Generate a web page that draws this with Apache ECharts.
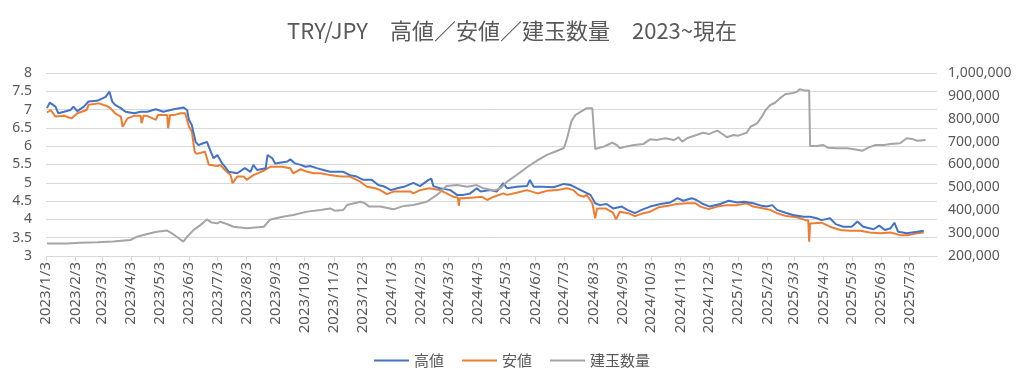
<!DOCTYPE html>
<html><head><meta charset="utf-8">
<script src="https://cdn.jsdelivr.net/npm/echarts@6/dist/echarts.min.js"></script>
<style>html,body{margin:0;padding:0;background:#fff}#c{width:1024px;height:386px}</style>
</head><body><div id="c"></div><script>
const chartTitle = 'TRY/JPY　高値／安値／建玉数量　2023~現在';
const seriesNames = ['高値', '安値', '建玉数量'];
const xStart = '2023/1/3';
const xEnd = '2025/8/1';
const tickLabels = ['2023/1/3','2023/2/3','2023/3/3','2023/4/3','2023/5/3','2023/6/3','2023/7/3','2023/8/3','2023/9/3','2023/10/3','2023/11/3','2023/12/3',
'2024/1/3','2024/2/3','2024/3/3','2024/4/3','2024/5/3','2024/6/3','2024/7/3','2024/8/3','2024/9/3','2024/10/3','2024/11/3','2024/12/3',
'2025/1/3','2025/2/3','2025/3/3','2025/4/3','2025/5/3','2025/6/3','2025/7/3'];

const high = [['2023-01-04',7.04],['2023-01-07',7.19],['2023-01-13',7.08],['2023-01-16',6.90],['2023-01-22',6.94],['2023-01-29',6.99],['2023-02-01',7.08],['2023-02-05',6.96],['2023-02-12',7.08],['2023-02-17',7.22],['2023-02-26',7.24],['2023-03-07',7.35],['2023-03-11',7.49],['2023-03-14',7.22],['2023-03-17',7.13],['2023-03-23',7.04],['2023-03-28',6.94],['2023-04-06',6.90],['2023-04-13',6.94],['2023-04-20',6.94],['2023-04-29',7.01],['2023-05-07',6.94],['2023-05-18',7.01],['2023-05-28',7.06],['2023-06-01',6.99],['2023-06-03',6.72],['2023-06-06',6.58],['2023-06-08',6.35],['2023-06-10',6.12],['2023-06-13',6.03],['2023-06-18',6.08],['2023-06-22',6.12],['2023-06-26',5.85],['2023-06-29',5.67],['2023-07-03',5.76],['2023-07-08',5.53],['2023-07-11',5.44],['2023-07-15',5.30],['2023-07-24',5.26],['2023-08-01',5.40],['2023-08-07',5.30],['2023-08-10',5.49],['2023-08-14',5.35],['2023-08-23',5.40],['2023-08-25',5.76],['2023-08-30',5.67],['2023-09-02',5.53],['2023-09-07',5.55],['2023-09-15',5.58],['2023-09-18',5.64],['2023-09-23',5.53],['2023-09-29',5.49],['2023-10-04',5.44],['2023-10-09',5.46],['2023-10-16',5.40],['2023-10-23',5.35],['2023-10-30',5.30],['2023-11-13',5.30],['2023-11-20',5.21],['2023-11-27',5.17],['2023-12-04',5.08],['2023-12-13',5.08],['2023-12-20',4.94],['2023-12-27',4.89],['2024-01-02',4.80],['2024-01-09',4.85],['2024-01-16',4.89],['2024-01-26',5.00],['2024-02-02',4.91],['2024-02-11',5.08],['2024-02-14',5.11],['2024-02-16',4.91],['2024-02-23',4.85],['2024-03-05',4.80],['2024-03-12',4.67],['2024-03-19',4.67],['2024-03-26',4.71],['2024-04-02',4.85],['2024-04-06',4.76],['2024-04-16',4.80],['2024-04-23',4.76],['2024-04-30',4.99],['2024-05-04',4.85],['2024-05-14',4.89],['2024-05-25',4.91],['2024-05-28',5.08],['2024-06-01',4.89],['2024-06-11',4.89],['2024-06-22',4.88],['2024-07-03',4.97],['2024-07-10',4.94],['2024-07-17',4.85],['2024-07-24',4.76],['2024-07-31',4.67],['2024-08-05',4.44],['2024-08-10',4.39],['2024-08-17',4.42],['2024-08-24',4.30],['2024-09-02',4.35],['2024-09-08',4.26],['2024-09-16',4.17],['2024-09-23',4.26],['2024-10-02',4.35],['2024-10-13',4.42],['2024-10-23',4.46],['2024-10-31',4.58],['2024-11-06',4.51],['2024-11-15',4.58],['2024-11-20',4.53],['2024-11-27',4.42],['2024-12-04',4.35],['2024-12-15',4.42],['2024-12-24',4.51],['2025-01-02',4.46],['2025-01-09',4.48],['2025-01-19',4.44],['2025-01-28',4.37],['2025-02-02',4.35],['2025-02-08',4.39],['2025-02-13',4.26],['2025-02-22',4.18],['2025-03-02',4.12],['2025-03-13',4.07],['2025-03-20',4.07],['2025-03-27',4.03],['2025-04-01',3.98],['2025-04-10',4.03],['2025-04-16',3.87],['2025-04-24',3.80],['2025-05-03',3.80],['2025-05-09',3.94],['2025-05-15',3.80],['2025-05-26',3.73],['2025-06-01',3.83],['2025-06-07',3.71],['2025-06-13',3.76],['2025-06-17',3.91],['2025-06-21',3.66],['2025-06-30',3.62],['2025-07-11',3.66],['2025-07-18',3.69]];

const low = [['2023-01-04',6.92],['2023-01-08',6.99],['2023-01-13',6.81],['2023-01-22',6.83],['2023-01-30',6.76],['2023-02-05',6.90],['2023-02-15',6.99],['2023-02-17',7.13],['2023-02-28',7.17],['2023-03-08',7.10],['2023-03-12',7.04],['2023-03-17',6.90],['2023-03-23',6.81],['2023-03-25',6.53],['2023-03-30',6.76],['2023-04-06',6.83],['2023-04-13',6.83],['2023-04-14',6.63],['2023-04-16',6.83],['2023-04-20',6.83],['2023-04-29',6.72],['2023-05-01',6.85],['2023-05-07',6.85],['2023-05-11',6.85],['2023-05-12',6.49],['2023-05-14',6.85],['2023-05-18',6.85],['2023-05-25',6.90],['2023-05-30',6.90],['2023-06-03',6.53],['2023-06-06',6.40],['2023-06-09',5.85],['2023-06-11',5.79],['2023-06-20',5.85],['2023-06-24',5.49],['2023-07-03',5.46],['2023-07-06',5.49],['2023-07-11',5.35],['2023-07-17',5.21],['2023-07-19',4.99],['2023-07-24',5.17],['2023-07-31',5.17],['2023-08-03',5.08],['2023-08-10',5.21],['2023-08-21',5.33],['2023-08-28',5.44],['2023-09-09',5.44],['2023-09-18',5.40],['2023-09-21',5.26],['2023-09-29',5.37],['2023-10-06',5.30],['2023-10-13',5.26],['2023-10-20',5.26],['2023-10-30',5.21],['2023-11-10',5.17],['2023-11-20',5.17],['2023-12-01',5.03],['2023-12-08',4.89],['2023-12-17',4.85],['2023-12-22',4.80],['2023-12-29',4.69],['2024-01-05',4.76],['2024-01-16',4.76],['2024-01-23',4.76],['2024-01-26',4.71],['2024-02-02',4.80],['2024-02-12',4.85],['2024-02-23',4.80],['2024-03-01',4.71],['2024-03-08',4.62],['2024-03-13',4.60],['2024-03-14',4.37],['2024-03-15',4.58],['2024-03-19',4.58],['2024-03-30',4.60],['2024-04-07',4.62],['2024-04-13',4.53],['2024-04-20',4.62],['2024-04-30',4.71],['2024-05-04',4.67],['2024-05-14',4.73],['2024-05-25',4.80],['2024-06-05',4.71],['2024-06-15',4.78],['2024-06-26',4.80],['2024-07-06',4.85],['2024-07-13',4.80],['2024-07-18',4.67],['2024-07-24',4.62],['2024-07-27',4.67],['2024-08-02',4.44],['2024-08-05',4.03],['2024-08-07',4.30],['2024-08-16',4.30],['2024-08-24',4.18],['2024-08-27',4.00],['2024-08-31',4.21],['2024-09-09',4.17],['2024-09-16',4.09],['2024-09-25',4.17],['2024-10-02',4.21],['2024-10-11',4.33],['2024-10-21',4.37],['2024-10-30',4.42],['2024-11-10',4.44],['2024-11-19',4.44],['2024-11-24',4.35],['2024-12-03',4.28],['2024-12-12',4.35],['2024-12-22',4.39],['2025-01-02',4.39],['2025-01-12',4.44],['2025-01-19',4.35],['2025-01-30',4.30],['2025-02-06',4.26],['2025-02-13',4.17],['2025-02-23',4.09],['2025-03-06',4.06],['2025-03-15',3.98],['2025-03-18',3.98],['2025-03-19',3.39],['2025-03-20',3.89],['2025-04-01',3.91],['2025-04-10',3.80],['2025-04-21',3.71],['2025-05-01',3.69],['2025-05-12',3.69],['2025-05-22',3.64],['2025-06-02',3.62],['2025-06-13',3.64],['2025-06-23',3.57],['2025-07-02',3.57],['2025-07-11',3.62],['2025-07-18',3.64]];

const openInterest = [['2023-01-04',255000],['2023-01-15',255000],['2023-01-25',255000],['2023-02-08',258000],['2023-02-26',260000],['2023-03-15',263000],['2023-04-02',270000],['2023-04-09',284000],['2023-04-20',296000],['2023-04-30',306000],['2023-05-11',311000],['2023-05-16',299000],['2023-05-21',284000],['2023-05-28',263000],['2023-06-01',284000],['2023-06-08',314000],['2023-06-15',335000],['2023-06-22',360000],['2023-06-27',346000],['2023-07-03',343000],['2023-07-06',350000],['2023-07-13',340000],['2023-07-20',328000],['2023-08-03',321000],['2023-08-21',328000],['2023-08-28',360000],['2023-09-10',372000],['2023-09-21',379000],['2023-10-06',394000],['2023-10-20',401000],['2023-10-30',408000],['2023-11-04',398000],['2023-11-13',401000],['2023-11-17',423000],['2023-12-01',437000],['2023-12-06',430000],['2023-12-10',416000],['2023-12-22',416000],['2024-01-05',404000],['2024-01-16',419000],['2024-01-26',423000],['2024-02-09',437000],['2024-02-20',467000],['2024-03-01',506000],['2024-03-12',510000],['2024-03-23',503000],['2024-04-02',510000],['2024-04-09',496000],['2024-04-20',486000],['2024-04-27',496000],['2024-05-04',525000],['2024-05-14',554000],['2024-05-25',588000],['2024-06-05',618000],['2024-06-15',642000],['2024-06-26',660000],['2024-07-03',672000],['2024-07-06',710000],['2024-07-11',790000],['2024-07-15',816000],['2024-07-21',831000],['2024-07-27',846000],['2024-08-02',846000],['2024-08-05',668000],['2024-08-14',678000],['2024-08-23',695000],['2024-08-28',685000],['2024-08-31',671000],['2024-09-06',678000],['2024-09-15',685000],['2024-09-25',690000],['2024-10-02',710000],['2024-10-09',707000],['2024-10-18',715000],['2024-10-27',707000],['2024-11-01',719000],['2024-11-05',700000],['2024-11-10',715000],['2024-11-20',729000],['2024-11-27',739000],['2024-12-03',733000],['2024-12-12',748000],['2024-12-19',729000],['2024-12-22',719000],['2024-12-29',729000],['2025-01-03',726000],['2025-01-12',739000],['2025-01-16',765000],['2025-01-23',780000],['2025-01-28',809000],['2025-02-01',838000],['2025-02-06',860000],['2025-02-11',870000],['2025-02-16',889000],['2025-02-22',908000],['2025-03-01',911000],['2025-03-06',918000],['2025-03-09',929000],['2025-03-15',923000],['2025-03-19',923000],['2025-03-20',681000],['2025-03-27',681000],['2025-04-03',685000],['2025-04-08',673000],['2025-04-17',671000],['2025-04-28',671000],['2025-05-07',666000],['2025-05-14',660000],['2025-05-21',675000],['2025-05-28',685000],['2025-06-06',685000],['2025-06-13',690000],['2025-06-23',693000],['2025-06-30',715000],['2025-07-07',710000],['2025-07-11',704000],['2025-07-20',707000]];

function toTime(s) {
  const p = s.split(/[\/-]/).map(Number);
  return new Date(p[0], p[1] - 1, p[2]).getTime();
}
function toPoints(arr) { return arr.map(function (r) { return [toTime(r[0]), r[1]]; }); }
const tickTimes = tickLabels.map(toTime);
const txt = '#595959';
const font = '"Noto Sans", "Noto Sans CJK JP", sans-serif';

const chart = echarts.init(document.getElementById('c'), null, {renderer: 'canvas'});
chart.setOption({
  animation: false,
  backgroundColor: '#fff',
  title: {
    text: chartTitle, left: 'center', top: 15,
    textStyle: {fontFamily: '"Noto Sans CJK JP", sans-serif', fontSize: 22, fontWeight: 'normal', color: txt}
  },
  legend: {
    data: seriesNames, left: 'center', top: 348, icon: 'rect', itemWidth: 35, itemHeight: 2, itemGap: 18,
    textStyle: {fontFamily: '"Noto Sans CJK JP", sans-serif', fontSize: 15, color: txt}
  },
  grid: {left: 46, right: 87, top: 73, bottom: 130, containLabel: false, outerBoundsMode: 'none'},
  xAxis: {
    type: 'value', min: toTime(xStart), max: toTime(xEnd),
    axisLine: {show: true, lineStyle: {color: '#d9d9d9', width: 1}},
    axisTick: {show: true, length: 5, lineStyle: {color: '#d9d9d9'}, customValues: tickTimes},
    axisLabel: {
      rotate: 90, margin: 6, fontSize: 15, color: txt, fontFamily: font,
      customValues: tickTimes, hideOverlap: false, showMinLabel: true, showMaxLabel: true,
      formatter: function (v) { const d = new Date(v); return d.getFullYear() + '/' + (d.getMonth() + 1) + '/' + d.getDate(); }
    },
    splitLine: {show: false}
  },
  yAxis: [{
    type: 'value', min: 3, max: 8, interval: 0.5,
    axisLine: {show: false}, axisTick: {show: false},
    axisLabel: {fontSize: 14, color: txt, fontFamily: font, margin: 14},
    splitLine: {show: true, lineStyle: {color: '#d9d9d9', width: 1}}
  }, {
    type: 'value', min: 200000, max: 1000000, interval: 100000,
    axisLine: {show: false}, axisTick: {show: false},
    axisLabel: {fontSize: 14, color: txt, fontFamily: font, margin: 11,
      formatter: function (v) { return v.toLocaleString('en-US'); }},
    splitLine: {show: false}
  }],
  series: [
    {name: seriesNames[0], type: 'line', yAxisIndex: 0, data: toPoints(high), symbol: 'none', lineStyle: {color: '#4472C4', width: 2}, itemStyle: {color: '#4472C4'}, z: 3},
    {name: seriesNames[1], type: 'line', yAxisIndex: 0, data: toPoints(low), symbol: 'none', lineStyle: {color: '#ED7D31', width: 2}, itemStyle: {color: '#ED7D31'}, z: 2},
    {name: seriesNames[2], type: 'line', yAxisIndex: 1, data: toPoints(openInterest), symbol: 'none', lineStyle: {color: '#A5A5A5', width: 2}, itemStyle: {color: '#A5A5A5'}, z: 4}
  ]
});
</script></body></html>
